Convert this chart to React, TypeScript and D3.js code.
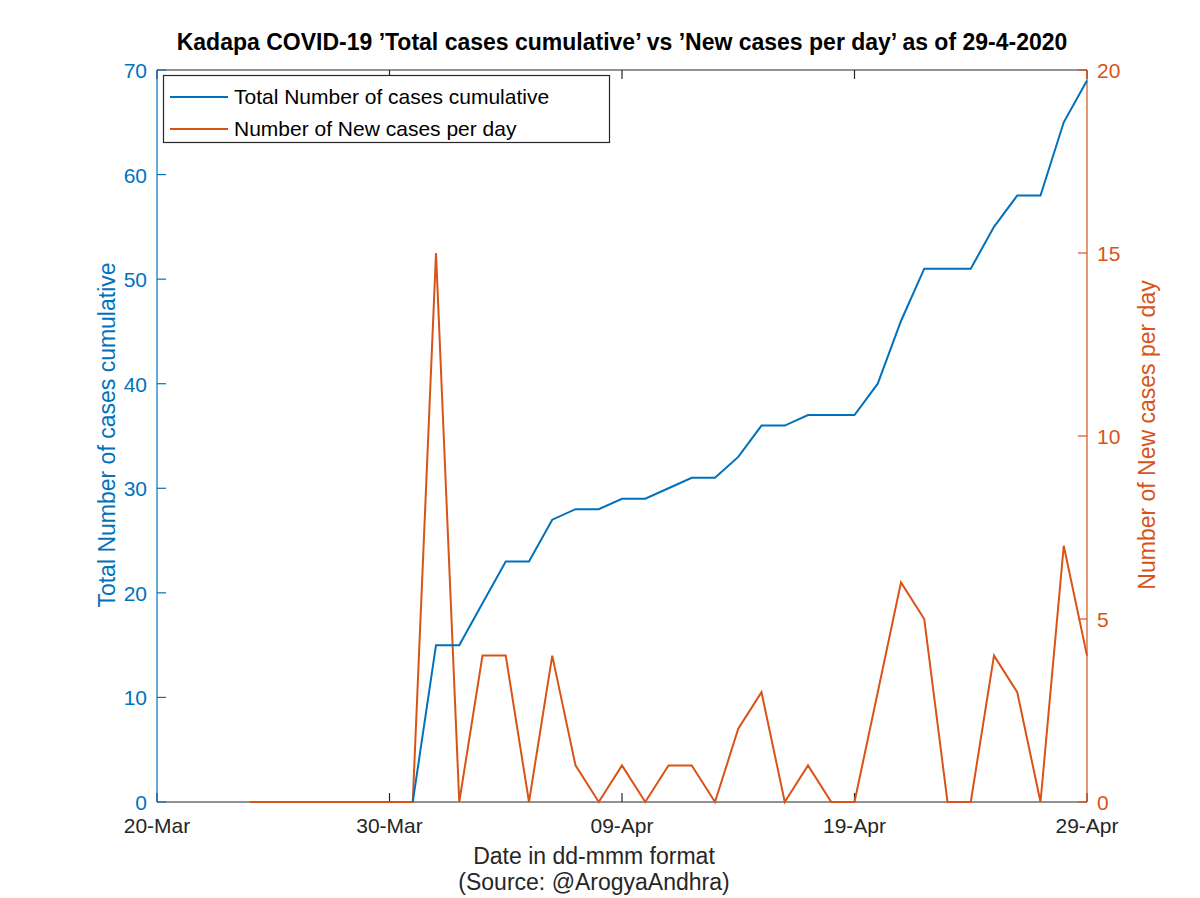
import React, { useEffect, useRef } from "react";
import * as d3 from "d3";

const totalDates = [
  "2020-03-31","2020-04-01","2020-04-02","2020-04-03","2020-04-04","2020-04-05","2020-04-06","2020-04-07",
  "2020-04-08","2020-04-09","2020-04-10","2020-04-11","2020-04-12","2020-04-13","2020-04-14","2020-04-15",
  "2020-04-16","2020-04-17","2020-04-18","2020-04-19","2020-04-20","2020-04-21","2020-04-22","2020-04-23",
  "2020-04-24","2020-04-25","2020-04-26","2020-04-27","2020-04-28","2020-04-29",
];
const totalCases = [0,15,15,19,23,23,27,28,28,29,29,30,31,31,33,36,36,37,37,37,40,46,51,51,51,55,58,58,65,69];

const newDates = [
  "2020-03-24","2020-03-25","2020-03-26","2020-03-27","2020-03-28","2020-03-29","2020-03-30",
  ...totalDates,
];
const newCases = [0,0,0,0,0,0,0, 0,15,0,4,4,0,4,1,0,1,0,1,1,0,2,3,0,1,0,0,3,6,5,0,0,4,3,0,7,4];

const xTickDates = ["2020-03-20","2020-03-30","2020-04-09","2020-04-19","2020-04-29"];
const xTickLabels = ["20-Mar","30-Mar","09-Apr","19-Apr","29-Apr"];
const leftTicks = [0,10,20,30,40,50,60,70];
const rightTicks = [0,5,10,15,20];

const BLUE = "#0072BD";
const ORANGE = "#D95319";
const DARK = "#262626";

export default function App() {
  const ref = useRef<SVGSVGElement>(null);
  useEffect(() => {
    const svg = d3.select(ref.current);
    svg.selectAll("*").remove();
    const W = 1200, H = 898;
    const L = 157, R = 1087, T = 70, B = 802;
    const parse = d3.utcParse("%Y-%m-%d");
    const x = d3.scaleUtc().domain([parse("2020-03-20")!, parse("2020-04-29")!]).range([L, R]);
    const yL = d3.scaleLinear().domain([0, 70]).range([B, T]);
    const yR = d3.scaleLinear().domain([0, 20]).range([B, T]);
    const font = "'Liberation Sans', Arial, sans-serif";

    svg.append("rect").attr("width", W).attr("height", H).attr("fill", "#fff");

    svg.append("text").attr("x", 622).attr("y", 50).attr("text-anchor", "middle")
      .attr("font-family", font).attr("font-weight", "bold").attr("font-size", 23).attr("fill", "#000")
      .text("Kadapa COVID-19 \u2019Total cases cumulative\u2019 vs \u2019New cases per day\u2019 as of 29-4-2020");

    const lineTotal = d3.line<number>().x((_, i) => x(parse(totalDates[i])!)).y(d => yL(d));
    const lineNew = d3.line<number>().x((_, i) => x(parse(newDates[i])!)).y(d => yR(d));

    const g = svg.append("g");
    g.append("line").attr("x1", L).attr("x2", R).attr("y1", B).attr("y2", B).attr("stroke", DARK).attr("stroke-width", 1.2);
    g.append("line").attr("x1", L).attr("x2", R).attr("y1", T).attr("y2", T).attr("stroke", DARK).attr("stroke-width", 1.2);
    xTickDates.forEach((d, i) => {
      const xx = x(parse(d)!);
      g.append("line").attr("x1", xx).attr("x2", xx).attr("y1", B).attr("y2", B - 9).attr("stroke", DARK).attr("stroke-width", 1.2);
      g.append("line").attr("x1", xx).attr("x2", xx).attr("y1", T).attr("y2", T + 9).attr("stroke", DARK).attr("stroke-width", 1.2);
      g.append("text").attr("x", xx).attr("y", B + 31).attr("text-anchor", "middle")
        .attr("font-family", font).attr("font-size", 21).attr("fill", DARK).text(xTickLabels[i]);
    });
    g.append("text").attr("x", 594).attr("y", 864).attr("text-anchor", "middle")
      .attr("font-family", font).attr("font-size", 23).attr("fill", DARK).text("Date in dd-mmm format");
    g.append("text").attr("x", 594).attr("y", 890).attr("text-anchor", "middle")
      .attr("font-family", font).attr("font-size", 23).attr("fill", DARK).text("(Source: @ArogyaAndhra)");

    g.append("line").attr("x1", L).attr("x2", L).attr("y1", T).attr("y2", B).attr("stroke", BLUE).attr("stroke-width", 1.2);
    leftTicks.forEach(t => {
      const yy = yL(t);
      g.append("line").attr("x1", L).attr("x2", L + 9).attr("y1", yy).attr("y2", yy).attr("stroke", BLUE).attr("stroke-width", 1.2);
      g.append("text").attr("x", L - 10).attr("y", yy + 8).attr("text-anchor", "end")
        .attr("font-family", font).attr("font-size", 21).attr("fill", BLUE).text(String(t));
    });
    g.append("text").attr("transform", `translate(115,435) rotate(-90)`).attr("text-anchor", "middle")
      .attr("font-family", font).attr("font-size", 23).attr("fill", BLUE).text("Total Number of cases cumulative");

    g.append("line").attr("x1", R).attr("x2", R).attr("y1", T).attr("y2", B).attr("stroke", ORANGE).attr("stroke-width", 1.2);
    rightTicks.forEach(t => {
      const yy = yR(t);
      g.append("line").attr("x1", R).attr("x2", R - 9).attr("y1", yy).attr("y2", yy).attr("stroke", ORANGE).attr("stroke-width", 1.2);
      g.append("text").attr("x", R + 10).attr("y", yy + 8).attr("text-anchor", "start")
        .attr("font-family", font).attr("font-size", 21).attr("fill", ORANGE).text(String(t));
    });
    g.append("text").attr("transform", `translate(1155,435) rotate(-90)`).attr("text-anchor", "middle")
      .attr("font-family", font).attr("font-size", 23).attr("fill", ORANGE).text("Number of New cases per day");

    svg.append("path").datum(newCases).attr("d", lineNew).attr("fill", "none").attr("stroke", ORANGE).attr("stroke-width", 2);
    svg.append("path").datum(totalCases).attr("d", lineTotal).attr("fill", "none").attr("stroke", BLUE).attr("stroke-width", 2);

    const lg = svg.append("g");
    lg.append("rect").attr("x", 163.5).attr("y", 75.5).attr("width", 446).attr("height", 67)
      .attr("fill", "#fff").attr("stroke", DARK).attr("stroke-width", 1.2);
    const items = [
      { label: "Total Number of cases cumulative", color: BLUE },
      { label: "Number of New cases per day", color: ORANGE },
    ];
    items.forEach((it, i) => {
      const yy = 97 + i * 32;
      lg.append("line").attr("x1", 170).attr("x2", 228).attr("y1", yy).attr("y2", yy).attr("stroke", it.color).attr("stroke-width", 2);
      lg.append("text").attr("x", 234).attr("y", yy + 7).attr("font-family", font).attr("font-size", 21)
        .attr("fill", "#000").text(it.label);
    });
  }, []);
  return <svg ref={ref} width={1200} height={898} style={{ display: "block", position: "absolute", left: 0, top: 0 }} />;
}
